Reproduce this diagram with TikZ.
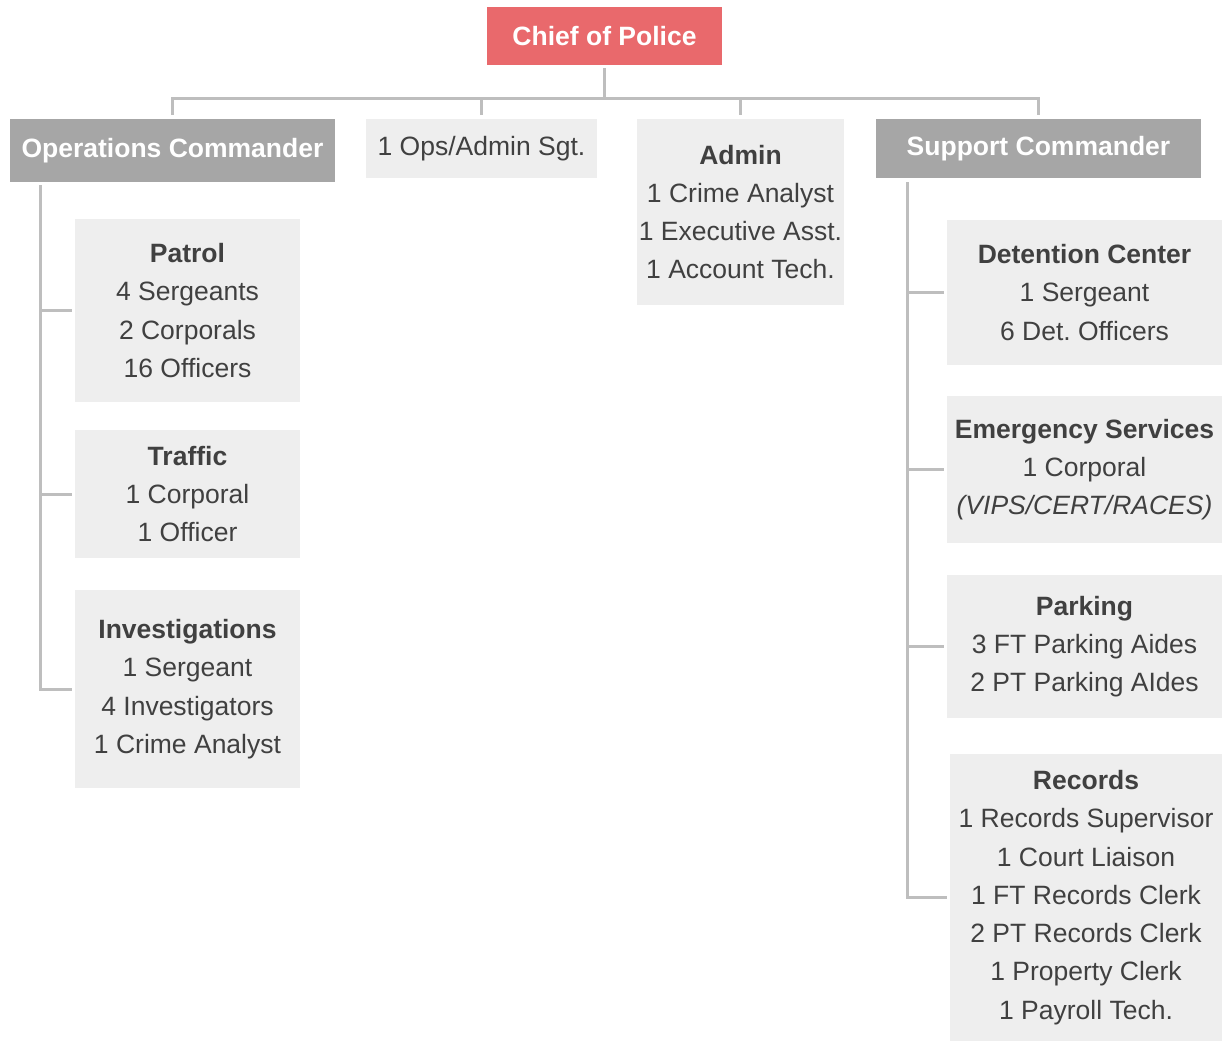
\documentclass[tikz,border=0pt]{standalone}
\usepackage{fontspec}
\setmainfont{Liberation Sans}
\frenchspacing
\usepackage{tikz}
\usetikzlibrary{positioning}
\definecolor{chiefred}{RGB}{233,105,108}
\definecolor{cmdgray}{RGB}{166,166,166}
\definecolor{unitgray}{RGB}{238,238,238}
\definecolor{linkgray}{RGB}{190,190,190}
\definecolor{textgray}{RGB}{64,64,64}

\tikzset{
  base/.style={rectangle, inner sep=0pt, align=center, font=\fontsize{26.5}{38.3}\selectfont},
  chiefbox/.style={base, fill=chiefred, text=white, font=\fontsize{26.5}{38.3}\selectfont\bfseries},
  cmdbox/.style={base, fill=cmdgray, text=white, font=\fontsize{26.5}{38.3}\selectfont\bfseries},
  unitbox/.style={base, fill=unitgray, text=textgray},
  link/.style={draw=linkgray, line width=3pt}
}

\begin{document}
\begin{tikzpicture}[x=1pt,y=-1pt]
\useasboundingbox (0,0) rectangle (1223,1042);

% Top
\node[chiefbox, minimum width=235, minimum height=58] (chief) at (604.5,36) {Chief of Police};

% Second row
\node[cmdbox, minimum width=325, minimum height=63] (opscmd) at (172.5,150.5) {Operations Commander};
\node[unitbox, minimum width=231, minimum height=59] (opssgt) at (481.5,148.5) {1 Ops/Admin Sgt.};
\node[unitbox, minimum width=207, minimum height=186] (admin) at (740.5,212) {\textbf{Admin}\\1 Crime Analyst\\1 Executive Asst.\\1 Account Tech.};
\node[cmdbox, minimum width=325, minimum height=59] (supcmd) at (1038.5,148.5) {Support Commander};

% Operations units
\node[unitbox, minimum width=225, minimum height=183] (patrol) at (187.5,310.5) {\textbf{Patrol}\\4 Sergeants\\2 Corporals\\16 Officers};
\node[unitbox, minimum width=225, minimum height=128] (traffic) at (187.5,494) {\textbf{Traffic}\\1 Corporal\\1 Officer};
\node[unitbox, minimum width=225, minimum height=198] (invest) at (187.5,689) {\textbf{Investigations}\\1 Sergeant\\4 Investigators\\1 Crime Analyst};

% Support units
\node[unitbox, minimum width=275, minimum height=145] (detention) at (1084.5,292.5) {\textbf{Detention Center}\\1 Sergeant\\6 Det. Officers};
\node[unitbox, minimum width=275, minimum height=147] (emergency) at (1084.5,469.5) {\textbf{Emergency Services}\\1 Corporal\\\textit{(VIPS/CERT/RACES)}};
\node[unitbox, minimum width=275, minimum height=143] (parking) at (1084.5,646.5) {\textbf{Parking}\\3 FT Parking Aides\\2 PT Parking AIdes};
\node[unitbox, minimum width=272, minimum height=287] (records) at (1086,897.5) {\textbf{Records}\\1 Records Supervisor\\1 Court Liaison\\1 FT Records Clerk\\2 PT Records Clerk\\1 Property Clerk\\1 Payroll Tech.};

% Links from chief
\foreach \n in {opscmd,opssgt,admin,supcmd}
  \draw[link] (chief.south) ++(0,3) -- ++(0,30) -| ([yshift=4pt]\n.north);

% Operations links
\foreach \n in {patrol,traffic,invest}
  \draw[link] ([xshift=31pt,yshift=-3pt]opscmd.south west) |- ([xshift=-3pt]\n.west);

% Support links
\foreach \n in {detention,emergency,parking,records}
  \draw[link] ([xshift=32pt,yshift=-4pt]supcmd.south west) |- ([xshift=-3pt]\n.west);
\end{tikzpicture}
\end{document}
